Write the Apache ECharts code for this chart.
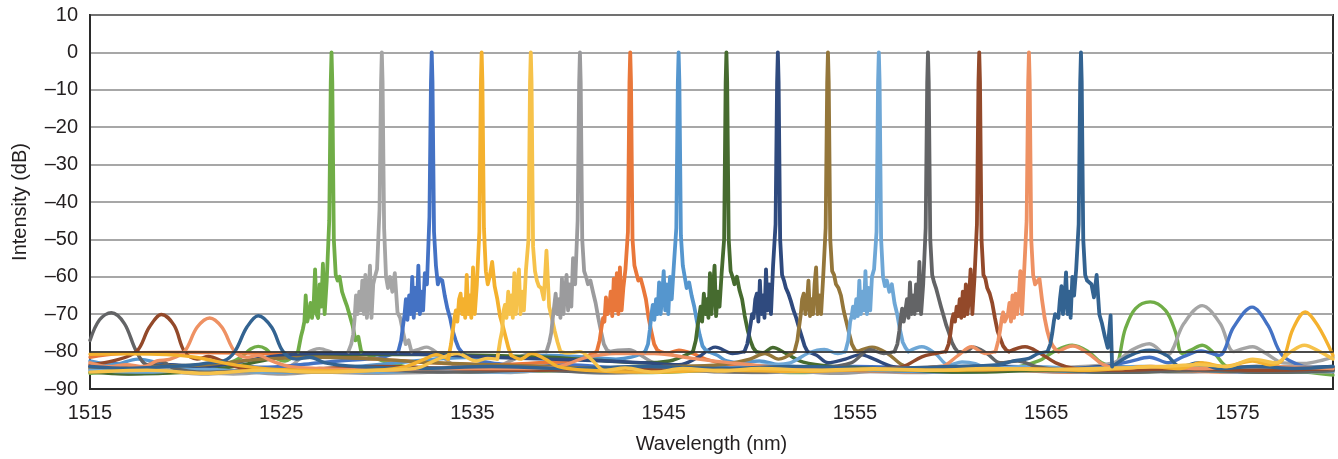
<!DOCTYPE html>
<html><head><meta charset="utf-8">
<script src="https://cdn.jsdelivr.net/npm/echarts@6/dist/echarts.min.js"></script>
<style>html,body{margin:0;padding:0;background:#fff}#c{width:1338px;height:459px}</style>
</head><body><div id="c"></div>
<script>
// ---- axis ticks ----
const xTicks = [1515, 1525, 1535, 1545, 1555, 1565, 1575];
const yTicks = [10, 0, -10, -20, -30, -40, -50, -60, -70, -80, -90];

// ---- channel colours ----
const colors = ['#70AD47','#A5A5A5','#4472C4','#F4B12E','#F6C24A','#9B9B9D','#E9773A','#5596CE',
                '#466B2F','#2F4A7E','#94763A','#6EA7D6','#636466','#93492A','#EE9163','#336391'];

// ---- main peaks (skirts): wavelength (nm) and intensity (dB) ----
const skX1 = [1525.88,1526.03,1526.13,1526.21,1526.28,1526.36,1526.45,1526.53,1526.61,1526.69,1526.77,1526.85,1526.93,1527.01,1527.09,1527.18,1527.27,1527.38,1527.51,1527.59,1527.63,1527.67,1527.75,1527.85,1527.95,1528.05,1528.18,1528.31,1528.45,1528.59,1528.73,1528.88,1529.03,1529.18];
const skY1 = [-80,-76,-74,-72,-65,-72,-70,-67,-71,-68,-58,-70,-71,-62,-68,-56.5,-70,-61,-45,-8,0,-8,-50,-59.5,-61,-60,-64,-66,-68,-70.5,-73,-77,-76,-80];
const skX2 = [1528.51,1528.66,1528.76,1528.84,1528.91,1528.99,1529.08,1529.16,1529.24,1529.32,1529.40,1529.48,1529.56,1529.64,1529.72,1529.81,1529.90,1530.01,1530.14,1530.22,1530.26,1530.30,1530.38,1530.48,1530.58,1530.68,1530.81,1530.94,1531.08,1531.22,1531.36,1531.51,1531.66,1531.81];
const skY2 = [-80,-78,-75.5,-71,-65,-70,-64,-69,-61,-70,-59.5,-71,-66,-57,-71,-62,-60,-58,-42,-8,0,-8,-47,-60,-63,-60,-64,-59,-69.5,-71,-74.5,-78,-77,-80];
const skX3 = [1531.12,1531.27,1531.37,1531.45,1531.52,1531.60,1531.69,1531.77,1531.85,1531.93,1532.01,1532.09,1532.17,1532.25,1532.33,1532.42,1532.51,1532.62,1532.75,1532.83,1532.87,1532.91,1532.99,1533.09,1533.19,1533.29,1533.42,1533.55,1533.69,1533.83,1533.97,1534.12,1534.27,1534.42];
const skY3 = [-80,-77,-73,-70,-66,-71.5,-65,-70,-60,-71,-63,-69,-57,-70,-64,-69,-59,-62,-44,-8,0,-8,-48,-57,-62,-60.5,-61,-65,-68.5,-71,-74.5,-77,-79,-80];
const skX4 = [1533.73,1533.88,1533.98,1534.06,1534.13,1534.21,1534.30,1534.38,1534.46,1534.54,1534.62,1534.70,1534.78,1534.86,1534.94,1535.03,1535.12,1535.23,1535.36,1535.44,1535.48,1535.52,1535.60,1535.70,1535.80,1535.90,1536.03,1536.16,1536.30,1536.44,1536.58,1536.73,1536.88,1537.03];
const skY4 = [-82,-78,-74,-71,-69,-72,-66,-64.5,-70,-66,-71,-59.5,-70,-65,-71,-57.5,-70,-62,-48,-8,0,-8,-47,-58.5,-62,-60,-56,-62.5,-66,-70.5,-73,-76,-79,-81];
const skX5 = [1536.30,1536.45,1536.55,1536.63,1536.70,1536.78,1536.87,1536.95,1537.03,1537.11,1537.19,1537.27,1537.35,1537.43,1537.51,1537.60,1537.69,1537.80,1537.93,1538.01,1538.05,1538.09,1538.17,1538.27,1538.37,1538.47,1538.60,1538.73,1538.87,1539.01,1539.15,1539.30,1539.45,1539.60];
const skY5 = [-82,-77,-74.5,-69,-67.5,-71,-64,-70,-65,-71,-59,-70,-62,-58,-70,-64,-69,-58,-50,-8,0,-8,-52,-58.5,-61,-62.5,-63,-66,-53,-68,-71,-74.5,-77.5,-80];
const skX6 = [1538.87,1539.02,1539.12,1539.20,1539.27,1539.35,1539.44,1539.52,1539.60,1539.68,1539.76,1539.84,1539.92,1540.00,1540.08,1540.17,1540.26,1540.37,1540.50,1540.58,1540.62,1540.66,1540.74,1540.84,1540.94,1541.04,1541.17,1541.30,1541.44,1541.58,1541.72,1541.87,1542.02,1542.17];
const skY6 = [-80,-77.5,-75,-71,-68,-64.5,-70,-66,-71,-60.5,-70,-64,-59.5,-69,-62,-68,-55,-62,-45,-8,0,-8,-50,-58.5,-60,-62,-61,-64,-67,-71,-74.5,-78,-79.5,-80];
const skX7 = [1541.50,1541.65,1541.75,1541.83,1541.90,1541.98,1542.07,1542.15,1542.23,1542.31,1542.39,1542.47,1542.55,1542.63,1542.71,1542.80,1542.89,1543.00,1543.13,1543.21,1543.25,1543.29,1543.37,1543.47,1543.57,1543.67,1543.80,1543.93,1544.07,1544.21,1544.35,1544.50,1544.65,1544.80];
const skY7 = [-80,-77,-73.5,-71,-72,-65.5,-70,-68,-64,-70.5,-60.5,-69,-59,-70,-57.5,-69,-63,-58,-48,-8,0,-8,-50,-57,-59,-61,-60.5,-63,-66,-71,-74.5,-78,-79.5,-80];
const skX8 = [1544.03,1544.18,1544.28,1544.36,1544.43,1544.51,1544.60,1544.68,1544.76,1544.84,1544.92,1545.00,1545.08,1545.16,1545.24,1545.33,1545.42,1545.53,1545.66,1545.74,1545.78,1545.82,1545.90,1546.00,1546.10,1546.20,1546.33,1546.46,1546.60,1546.74,1546.88,1547.03,1547.18,1547.33];
const skY8 = [-80,-78,-74,-70,-67.5,-71.5,-66,-70,-61.5,-70,-65,-58.5,-69,-62,-70,-60,-66,-57,-47,-8,0,-8,-49,-57,-60,-63,-61.5,-65,-68,-72,-75.5,-78.5,-79.5,-80];
const skX9 = [1546.53,1546.68,1546.78,1546.86,1546.93,1547.01,1547.10,1547.18,1547.26,1547.34,1547.42,1547.50,1547.58,1547.66,1547.74,1547.83,1547.92,1548.03,1548.16,1548.24,1548.28,1548.32,1548.40,1548.50,1548.60,1548.70,1548.83,1548.96,1549.10,1549.24,1549.38,1549.53,1549.68,1549.83];
const skY9 = [-80,-77,-73,-70.5,-68,-72,-64.5,-70,-66,-71,-59,-70,-63,-57,-70.5,-64,-68,-59,-50,-8,0,-8,-50,-58.5,-60,-62,-60,-63.5,-66,-70.5,-74,-77,-79,-80];
const skX10 = [1549.22,1549.37,1549.47,1549.55,1549.62,1549.70,1549.79,1549.87,1549.95,1550.03,1550.11,1550.19,1550.27,1550.35,1550.43,1550.52,1550.61,1550.72,1550.85,1550.93,1550.97,1551.01,1551.09,1551.19,1551.29,1551.39,1551.52,1551.65,1551.79,1551.93,1552.07,1552.22,1552.37,1552.52];
const skY10 = [-80,-78,-75,-72.5,-70,-71,-66,-64.5,-72,-61,-70,-65,-71,-58,-69,-62,-70,-57,-46,-8,0,-8,-50,-59.5,-61,-63,-64.5,-66.5,-69,-71,-73.5,-76,-78.5,-80];
const skX11 = [1551.84,1551.99,1552.09,1552.17,1552.24,1552.32,1552.41,1552.49,1552.57,1552.65,1552.73,1552.81,1552.89,1552.97,1553.05,1553.14,1553.23,1553.34,1553.47,1553.55,1553.59,1553.63,1553.71,1553.81,1553.91,1554.01,1554.14,1554.27,1554.41,1554.55,1554.69,1554.84,1554.99,1555.14];
const skY11 = [-80,-77,-73,-70,-66,-64.5,-70,-67,-61,-70.5,-66,-70,-62,-57.5,-70,-65,-70,-60,-47,-8,0,-8,-50,-58.5,-59.5,-62,-63,-65,-69,-72,-75,-78,-79.5,-80];
const skX12 = [1554.50,1554.65,1554.75,1554.83,1554.90,1554.98,1555.07,1555.15,1555.23,1555.31,1555.39,1555.47,1555.55,1555.63,1555.71,1555.80,1555.89,1556.00,1556.13,1556.21,1556.25,1556.29,1556.37,1556.47,1556.57,1556.67,1556.80,1556.93,1557.07,1557.21,1557.35,1557.50,1557.65,1557.80];
const skY12 = [-80,-77,-72,-70.5,-68,-71,-66,-70.5,-61,-70,-64,-69,-58.5,-70,-63,-69,-60,-58,-48,-8,0,-8,-50,-60,-62.5,-61,-64,-62,-67,-70,-74,-77.5,-79,-80];
const skX13 = [1557.07,1557.22,1557.32,1557.40,1557.47,1557.55,1557.64,1557.72,1557.80,1557.88,1557.96,1558.04,1558.12,1558.20,1558.28,1558.37,1558.46,1558.57,1558.70,1558.78,1558.82,1558.86,1558.94,1559.04,1559.14,1559.24,1559.37,1559.50,1559.64,1559.78,1559.92,1560.07,1560.22,1560.37];
const skY13 = [-80,-78,-74.5,-71,-68.5,-72,-69,-66,-71,-61.5,-70,-65,-70,-62,-69,-56,-70,-62,-47,-8,0,-8,-50,-59.5,-61.5,-63,-65.5,-68,-70.5,-73,-75,-77.5,-79,-80];
const skX14 = [1559.75,1559.90,1560.00,1560.08,1560.15,1560.23,1560.32,1560.40,1560.48,1560.56,1560.64,1560.72,1560.80,1560.88,1560.96,1561.05,1561.14,1561.25,1561.38,1561.46,1561.50,1561.54,1561.62,1561.72,1561.82,1561.92,1562.05,1562.18,1562.32,1562.46,1562.60,1562.75,1562.90,1563.05];
const skY14 = [-80,-78,-75,-71.5,-70,-72,-68,-70.5,-66,-71,-64,-70.5,-62,-70,-66,-58,-70,-60.5,-46,-8,0,-8,-50,-59.5,-60.5,-63,-64.5,-67,-71,-74.5,-76.5,-78.5,-79.5,-80];
const skX15 = [1562.35,1562.50,1562.60,1562.68,1562.75,1562.83,1562.92,1563.00,1563.08,1563.16,1563.24,1563.32,1563.40,1563.48,1563.56,1563.65,1563.74,1563.85,1563.98,1564.06,1564.10,1564.14,1564.22,1564.32,1564.42,1564.52,1564.65,1564.78,1564.92,1565.06,1565.20,1565.35,1565.50,1565.65];
const skY15 = [-80,-77,-74,-71,-69.5,-72,-71,-70,-67,-72,-65,-71,-64.5,-70,-66,-58.5,-70,-58.5,-45,-8,0,-8,-50,-59.5,-62,-62.5,-60.5,-66,-71,-74.5,-77,-78.5,-79.5,-80];
const skX16 = [1565.07,1565.22,1565.32,1565.40,1565.47,1565.55,1565.64,1565.72,1565.80,1565.88,1565.96,1566.04,1566.12,1566.20,1566.28,1566.37,1566.46,1566.57,1566.70,1566.78,1566.82,1566.86,1566.94,1567.04,1567.14,1567.24,1567.37,1567.50,1567.64,1567.78,1567.92,1568.07,1568.22,1568.37,1568.45];
const skY16 = [-80,-78,-75,-72,-70,-69.5,-71,-66,-62.5,-70,-66,-58.8,-70,-64,-71,-60,-65,-58,-46,-8,0,-8,-50,-59.5,-61,-60.5,-62,-65.5,-59.5,-70,-72.5,-76,-79,-70.3,-84];

// ---- background / side-lobe traces left and right of each peak: [nm, dB] ----
const flL1 = [[1515,-85.8],[1517,-85.4],[1519,-85.7],[1521,-85.1],[1522.2,-83.2],[1522.9,-81.5],[1523.4,-79.3],[1523.8,-78.6],[1524.2,-79.3],[1524.65,-81.5],[1525.2,-82.5],[1525.88,-80]];
const flR1 = [[1529.18,-80],[1529.6,-81],[1530.3,-82.5],[1531.5,-84],[1533,-85],[1536,-85.5],[1540,-85.1],[1544,-85.6],[1548,-85.1],[1552,-85.6],[1556,-85.1],[1560,-85.4],[1563,-84.6],[1564.6,-82.5],[1565.4,-80],[1566.36,-78.3],[1567.2,-80],[1567.9,-83],[1568.56,-84],[1569.14,-73.9],[1569.67,-68.5],[1570.44,-66.7],[1571.24,-69],[1571.76,-74.7],[1572.11,-80.5],[1572.6,-79.5],[1573.16,-78.3],[1573.8,-80.5],[1574.47,-84],[1576,-84.6],[1578,-85.2],[1580,-86.3]];
const flL2 = [[1515,-84.5],[1516.5,-85.6],[1518,-85],[1519.5,-84.4],[1521,-85.5],[1522.5,-86],[1524,-85.5],[1525,-84.6],[1525.6,-83.5],[1526.3,-80.5],[1527.0,-79.2],[1527.7,-80.3],[1528.2,-81],[1528.51,-80]];
const flR2 = [[1531.81,-80],[1532.2,-79.4],[1532.6,-78.8],[1533.2,-80.5],[1534,-83.5],[1535,-85],[1537,-85.6],[1539,-85],[1542,-85.8],[1546,-85.1],[1550,-85.6],[1554,-85.2],[1558,-85.6],[1562,-85.1],[1566,-84.2],[1568.5,-83],[1569.5,-79.5],[1570.4,-77.9],[1571.3,-81],[1572.2,-72.5],[1573.16,-67.7],[1574.1,-72.5],[1574.8,-80],[1575.3,-79.2],[1575.8,-78.7],[1576.5,-80.5],[1577.4,-83],[1578.5,-83.2],[1579.3,-82.5],[1580,-81.5]];
const flL3 = [[1515,-84],[1516,-83],[1517.5,-84.5],[1519,-83.5],[1520.5,-84.2],[1522,-83.2],[1524,-84.2],[1526,-83.5],[1528,-82.5],[1529.5,-82],[1530.3,-81.5],[1531.12,-80]];
const flR3 = [[1534.42,-80],[1535,-82],[1536,-83],[1538,-84],[1540,-83.5],[1543,-84.5],[1547,-84],[1551,-84.5],[1555,-84],[1559,-84.5],[1563,-84],[1566,-84.5],[1568,-84],[1569.4,-82.6],[1570.4,-81.5],[1571.4,-83],[1572.2,-81.3],[1573.1,-79.8],[1574.05,-81],[1574.8,-73.5],[1575.77,-68.1],[1576.6,-73],[1577.35,-81],[1578.5,-84],[1579.3,-84.5],[1580,-84.4]];
const flL4 = [[1515,-80.7],[1517,-80.6],[1519,-80.8],[1520.5,-81.5],[1522.2,-83.2],[1524,-84.5],[1526,-85],[1528,-85.2],[1530,-85],[1531.5,-84],[1532.5,-82],[1533.1,-80.8],[1533.73,-82]];
const flR4 = [[1537.03,-81],[1537.5,-82],[1538.1,-80.5],[1538.8,-82],[1539.5,-84],[1541,-85],[1544,-85.5],[1548,-85],[1552,-85.3],[1556,-84.8],[1560,-85],[1564,-84.6],[1567,-85],[1569,-84.5],[1570.4,-84],[1572,-84.5],[1573.1,-83],[1574.3,-84],[1575.8,-82.5],[1576.7,-83.5],[1577.35,-82.3],[1577.9,-74],[1578.55,-69.4],[1579.2,-73],[1580,-81]];
const flL5 = [[1515,-85.5],[1518,-85],[1521,-85.8],[1524,-85],[1527,-85.5],[1530,-85],[1532,-84.5],[1533.2,-82],[1534.2,-80.5],[1535.2,-82.5],[1535.8,-81.8],[1536.3,-82]];
const flR5 = [[1539.6,-80],[1540.0,-80.4],[1540.6,-80],[1541.2,-82],[1541.9,-85],[1543,-84.4],[1544.5,-85.5],[1546,-84.5],[1548,-85.2],[1550,-84.5],[1553,-85],[1556,-84.6],[1559,-85],[1562,-84.5],[1565,-84.8],[1568,-84.5],[1571,-84],[1573,-83.5],[1574.5,-84],[1575.8,-82],[1577,-83],[1577.8,-80],[1578.5,-78.3],[1579.3,-80],[1580,-82]];
const flL6 = [[1515,-85],[1517,-86],[1519,-85.5],[1521,-86],[1523,-85.5],[1525,-86],[1527,-85.5],[1530,-85.8],[1533,-85.5],[1536,-84.5],[1537.2,-82],[1538,-80.5],[1538.87,-80]];
const flR6 = [[1542.17,-80],[1542.6,-79.6],[1543.2,-79.5],[1543.8,-81],[1544.5,-83],[1546,-84.5],[1548,-85.5],[1551,-85],[1554,-85.8],[1557,-85],[1560,-85.5],[1563,-85],[1566,-85.5],[1569,-85],[1572,-85.5],[1575,-85],[1578,-85.3],[1580,-85.5]];
const flL7 = [[1515,-81.5],[1516.5,-80.5],[1519,-80.2],[1522,-80.3],[1525,-80.6],[1527,-81],[1530,-82],[1533,-83],[1536,-83.5],[1538.5,-83],[1540,-82.5],[1540.8,-81.5],[1541.5,-80]];
const flR7 = [[1544.8,-80],[1545.2,-80.4],[1545.8,-79.6],[1546.5,-80.5],[1547.2,-82],[1548.5,-83.5],[1551,-84.5],[1555,-85],[1559,-85.5],[1563,-85],[1567,-85.5],[1571,-85],[1575,-85.5],[1580,-85]];
const flL8 = [[1515,-82.5],[1516.2,-83.5],[1517.5,-82],[1519,-83.5],[1520.5,-84.5],[1522,-83.5],[1523.5,-84.5],[1525,-85.5],[1527,-85],[1529,-84],[1531,-83],[1533,-82],[1535,-81.5],[1537,-81.5],[1539,-81],[1541,-81.5],[1542.5,-82],[1543.3,-81.5],[1544.03,-80]];
const flR8 = [[1547.33,-80],[1547.8,-81],[1548.3,-82.5],[1549,-83],[1550,-82.5],[1551,-83.5],[1553,-84.5],[1556,-85],[1560,-85.5],[1564,-85],[1568,-85.5],[1572,-85],[1576,-85.5],[1580,-85.2]];
const flL9 = [[1515,-85.5],[1517,-86],[1520,-85.5],[1522.5,-84],[1525,-81.5],[1527,-81],[1530,-80.8],[1533,-80.8],[1536,-81],[1539,-81.5],[1542,-82.5],[1544,-83],[1545.3,-82.5],[1545.9,-81.5],[1546.53,-80]];
const flR9 = [[1549.83,-80],[1550.2,-80.3],[1550.7,-78.9],[1551.4,-80.5],[1552.3,-82.8],[1554,-84],[1556,-84.5],[1558,-85],[1561,-85.5],[1565,-85],[1569,-85.5],[1573,-85],[1577,-85.5],[1580,-85]];
const flL10 = [[1515,-84],[1517,-84.5],[1519,-83.5],[1521,-84],[1523,-82.5],[1525,-81],[1527,-80.5],[1530,-80.5],[1533,-80.8],[1536,-81.5],[1539,-82],[1542,-82.5],[1544,-83],[1545.8,-83.5],[1546.8,-81.5],[1547.7,-78.8],[1548.6,-80.5],[1549.22,-80]];
const flR10 = [[1552.52,-80],[1553,-81],[1553.6,-83],[1554.5,-82],[1555.3,-80.8],[1556,-82],[1557,-84],[1559,-84.5],[1562,-84],[1566,-84.5],[1568.5,-84],[1570.4,-84.5],[1573,-84],[1576,-84.5],[1580,-84]];
const flL11 = [[1515,-84.5],[1518,-84],[1521,-83.5],[1524,-82],[1527,-81.5],[1530,-82],[1533,-83],[1536,-83.5],[1539,-84],[1542,-84.5],[1545,-84],[1548,-83.5],[1549.5,-82],[1550.3,-80.5],[1551.0,-82],[1551.84,-80]];
const flR11 = [[1555.14,-80],[1555.9,-78.8],[1556.7,-80.5],[1557.5,-83.6],[1558.3,-84.5],[1559.5,-84],[1561.5,-85],[1565,-84.5],[1569,-85],[1573,-84.5],[1577,-85],[1580,-84.5]];
const flL12 = [[1515,-85],[1518,-85.5],[1521,-84.8],[1524,-85.5],[1527,-85],[1530,-85.5],[1533,-85],[1536,-85.5],[1539,-85],[1542,-85.5],[1545,-85],[1548,-84.5],[1550.5,-83.5],[1551.6,-83],[1552.6,-80.3],[1553.4,-79.4],[1554.1,-80.5],[1554.5,-80]];
const flR12 = [[1557.8,-80],[1558.5,-78.7],[1559.2,-80.5],[1559.9,-83.6],[1560.6,-82.8],[1561.3,-83.2],[1562,-84.5],[1564,-84],[1567,-84.5],[1570,-84],[1574,-84.5],[1577,-84],[1580,-84.5]];
const flL13 = [[1515,-77],[1515.5,-71.5],[1516.12,-69.6],[1516.8,-72.5],[1517.43,-80],[1518.0,-83.5],[1518.7,-82.5],[1519.4,-84.5],[1521,-85.5],[1524,-85],[1527,-85.5],[1530,-85],[1534,-85.5],[1538,-85],[1542,-85.5],[1546,-85],[1550,-85.5],[1553,-84.5],[1554.8,-83],[1555.8,-79.5],[1556.5,-80.5],[1557.07,-80]];
const flR13 = [[1560.37,-80],[1560.8,-80],[1561.2,-78.8],[1561.9,-80.5],[1562.6,-83],[1563.5,-82.5],[1564.5,-84],[1566,-85],[1569,-85.5],[1573,-85],[1577,-85.5],[1580,-85]];
const flL14 = [[1515,-83.5],[1516.2,-82.5],[1517.43,-80],[1518.1,-73.5],[1518.74,-70.1],[1519.4,-73],[1519.94,-80],[1520.6,-82],[1521.2,-81.3],[1521.9,-82.5],[1522.6,-84],[1524,-85],[1527,-84.5],[1530,-84],[1534,-84.5],[1538,-85],[1542,-84.5],[1546,-85],[1550,-84.5],[1554,-85],[1556.5,-84.5],[1557.5,-84],[1558.5,-81.4],[1559.2,-80.5],[1559.75,-80]];
const flR14 = [[1563.05,-80],[1563.9,-78.7],[1564.7,-80.5],[1565.5,-83],[1566.5,-84.5],[1569,-85],[1572,-84.5],[1576,-85],[1580,-84.5]];
const flL15 = [[1515,-83],[1516,-84],[1516.9,-83.5],[1517.8,-84],[1518.5,-82.5],[1519.2,-82],[1519.94,-80],[1520.6,-73.5],[1521.26,-71],[1521.9,-73.5],[1522.57,-80],[1523.2,-81.5],[1523.8,-81],[1524.5,-82.5],[1525.5,-84],[1527,-84.5],[1530,-85],[1533,-84.5],[1536,-84.5],[1538,-84.5],[1539.5,-84],[1541,-81.5],[1542.5,-80.5],[1544.5,-80.5],[1546.5,-81.8],[1548.5,-83],[1551,-84.2],[1554,-85],[1557,-84.5],[1559.5,-84],[1560.4,-81],[1561.1,-78.7],[1561.8,-80.5],[1562.35,-80]];
const flR15 = [[1565.65,-80],[1566.4,-78.5],[1567.2,-80.5],[1568,-83.5],[1568.8,-84.5],[1570.5,-84],[1573,-84.5],[1576,-84],[1580,-84.5]];
const flL16 = [[1515,-84],[1517,-84.5],[1519,-84],[1520.5,-83.5],[1521.2,-83],[1522,-82.5],[1522.57,-80],[1523.2,-73.5],[1523.8,-70.4],[1524.5,-73.5],[1525.1,-80],[1525.8,-82],[1526.5,-81.5],[1527.3,-83],[1529,-84],[1532,-84.5],[1536,-84],[1540,-84.5],[1544,-84],[1548,-84.5],[1552,-84],[1556,-84.5],[1560,-84],[1562.5,-83.5],[1563.3,-82.5],[1564.1,-81.8],[1564.6,-80.5],[1565.07,-80]];
const flR16 = [[1568.45,-84],[1569.4,-81],[1570.4,-79.6],[1571.3,-81],[1572,-84],[1573,-83],[1574,-84.5],[1576,-84],[1578,-84.5],[1580,-84]];

const skX = [skX1,skX2,skX3,skX4,skX5,skX6,skX7,skX8,skX9,skX10,skX11,skX12,skX13,skX14,skX15,skX16];
const skY = [skY1,skY2,skY3,skY4,skY5,skY6,skY7,skY8,skY9,skY10,skY11,skY12,skY13,skY14,skY15,skY16];
const flL = [flL1,flL2,flL3,flL4,flL5,flL6,flL7,flL8,flL9,flL10,flL11,flL12,flL13,flL14,flL15,flL16];
const flR = [flR1,flR2,flR3,flR4,flR5,flR6,flR7,flR8,flR9,flR10,flR11,flR12,flR13,flR14,flR15,flR16];

const FONT = "'Liberation Sans', Arial, Helvetica, sans-serif";
const series = [];
function lineSeries(data, color, smooth, width) {
  return { type: 'line', data: data, smooth: smooth, showSymbol: false, symbol: 'none', silent: true,
           animation: false, lineStyle: { color: color, width: width, join: 'round', cap: 'round' } };
}
const floorOrder = [0,1,2,5,6,7,8,9,10,11,12,13,14,15,3,4];
floorOrder.forEach((i, n) => {
  const sL = lineSeries(flL[i], colors[i], 0.35, 3.4);
  if (n === 0) {
    // dark reference line at -80 dB, drawn beneath the traces
    sL.markLine = { silent: true, symbol: 'none', label: { show: false },
      lineStyle: { color: '#2b2b2b', width: 1.6, type: 'solid' }, data: [{ yAxis: -80 }] };
  }
  series.push(sL);
  series.push(lineSeries(flR[i], colors[i], 0.35, 3.4));
});
for (let i = 0; i < 16; i++) {
  series.push(lineSeries(skX[i].map((x, k) => [x, skY[i][k]]), colors[i], false, 3.8));
}

const chart = echarts.init(document.getElementById('c'), null, { renderer: 'canvas' });
chart.setOption({
  backgroundColor: '#fff',
  animation: false,
  grid: { left: 90, right: 5, top: 15, bottom: 68, show: true, borderColor: '#2b2b2b', borderWidth: 2, backgroundColor: 'transparent' },
  xAxis: {
    type: 'value', min: 1515, max: 1580, interval: 5,
    name: 'Wavelength (nm)', nameLocation: 'middle', nameGap: 45,
    nameTextStyle: { fontFamily: FONT, fontSize: 20, color: '#231f20' },
    axisLine: { show: true, onZero: false, lineStyle: { color: '#2b2b2b', width: 2 } },
    axisTick: { show: false },
    splitLine: { show: false },
    axisLabel: { margin: 14, fontFamily: FONT, fontSize: 20, color: '#231f20',
      formatter: v => xTicks.indexOf(Math.round(v)) >= 0 ? String(Math.round(v)) : '' }
  },
  yAxis: {
    type: 'value', min: -90, max: 10, interval: 10,
    name: 'Intensity (dB)', nameLocation: 'middle', nameGap: 60, nameRotate: 90,
    nameTextStyle: { fontFamily: FONT, fontSize: 20, color: '#231f20' },
    axisLine: { show: true, onZero: false, lineStyle: { color: '#2b2b2b', width: 2 } },
    axisTick: { show: false },
    splitLine: { show: true, lineStyle: { color: '#8a8a8a', width: 1.6 } },
    axisLabel: { margin: 12, fontFamily: FONT, fontSize: 20, color: '#231f20',
      formatter: v => yTicks.indexOf(v) >= 0 ? (v < 0 ? '\u2013' + Math.abs(v) : String(v)) : '' }
  },
  series: series
});
</script></body></html>
